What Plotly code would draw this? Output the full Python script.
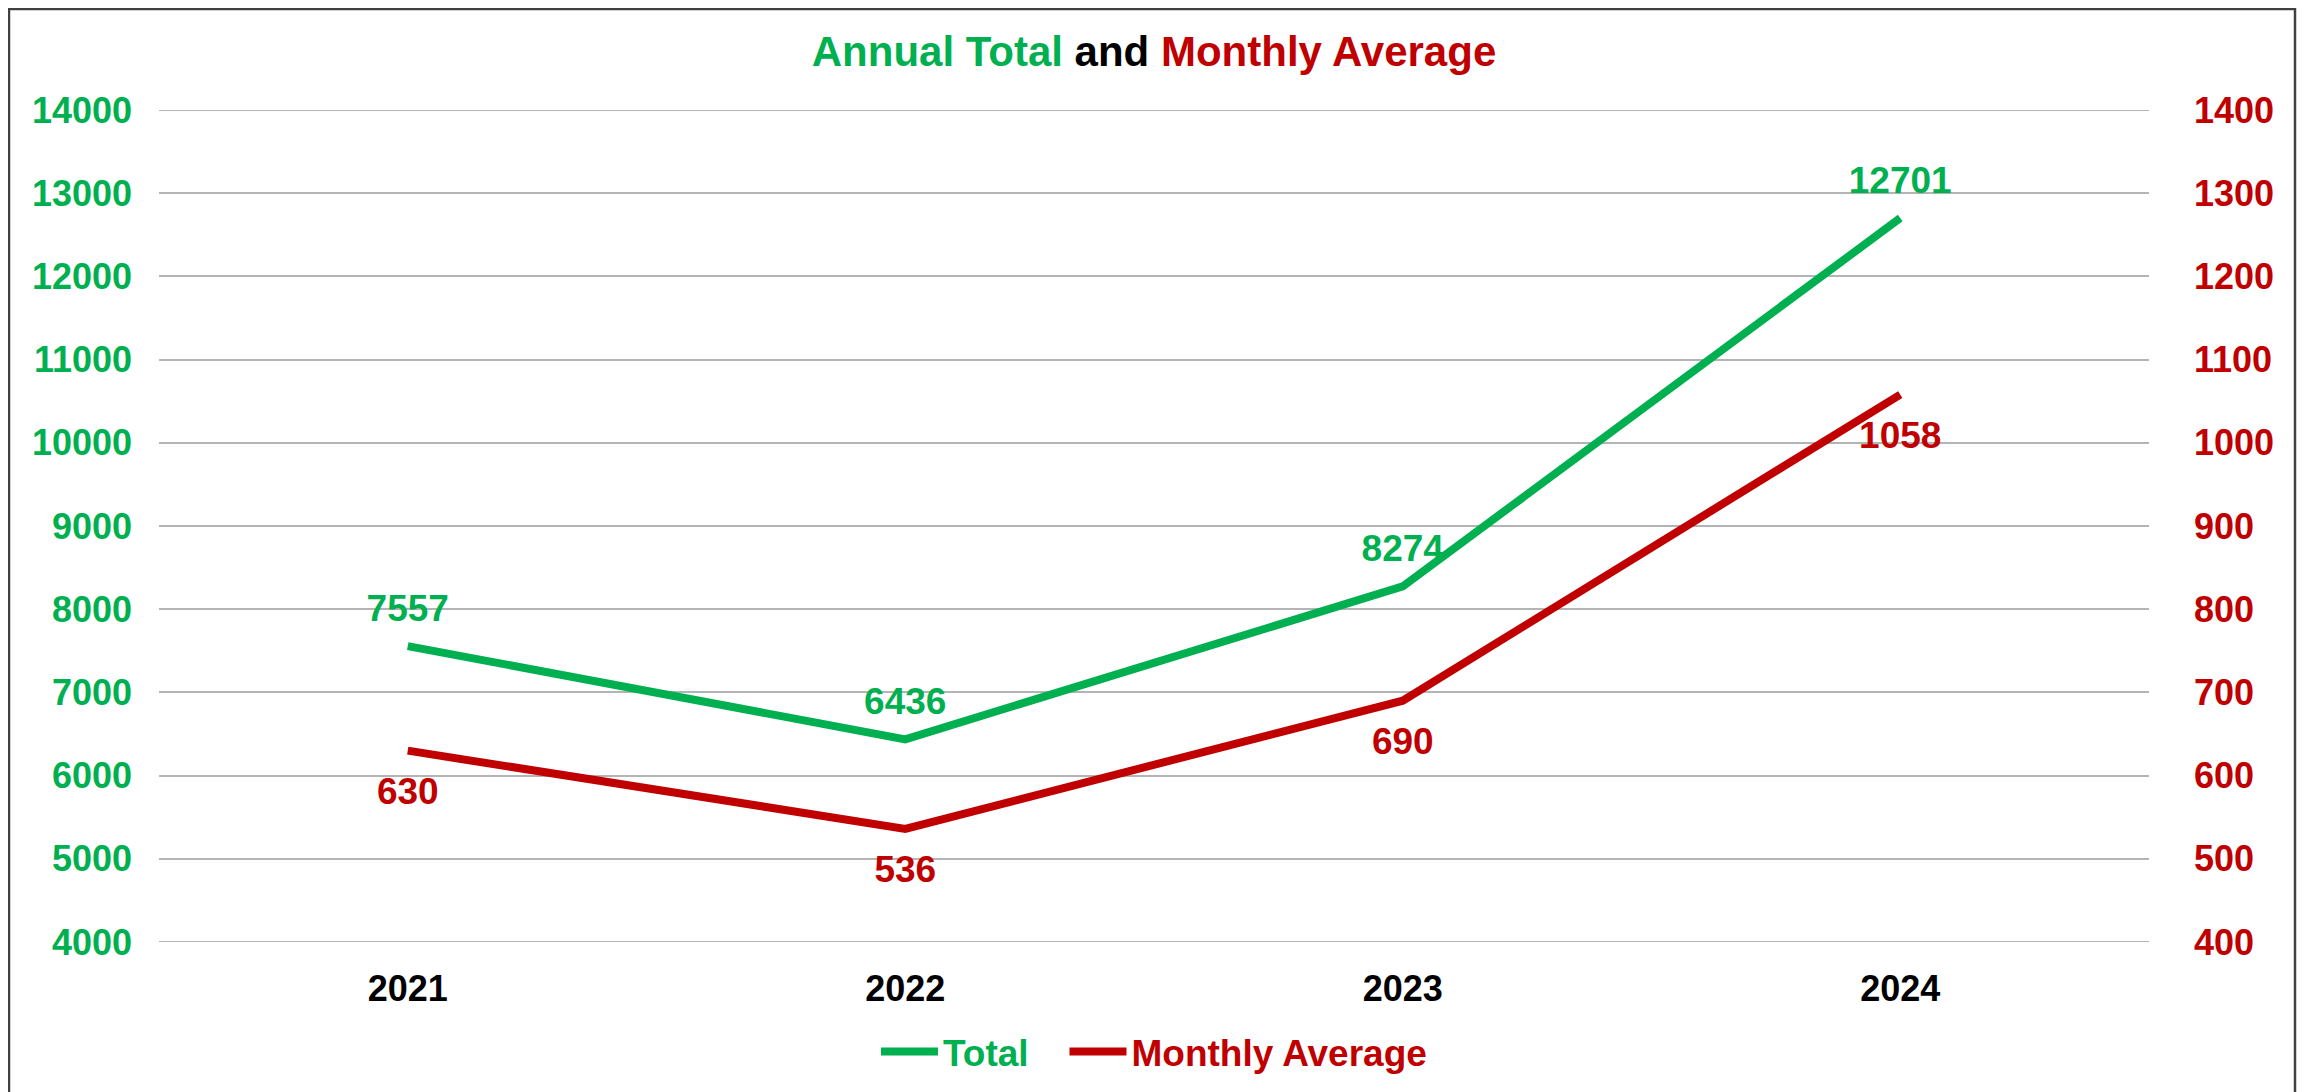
import plotly.graph_objects as go

years = ["2021", "2022", "2023", "2024"]
total = [7557, 6436, 8274, 12701]
monthly_avg = [630, 536, 690, 1058]
left_ticks = list(range(4000, 14001, 1000))
right_ticks = list(range(400, 1401, 100))

GREEN = "#00B050"
RED = "#C00000"
GRID = "#B4B4B4"
FONT = "Liberation Sans, Arial, sans-serif"

# page body has an 8px margin; work in page coordinates and shift
OFF = 8
W, H = 2308 - OFF, 1092 - OFF
PL, PR, PT, PB = 159, 2149, 110, 942  # plot area in page pixels
L, R, T, B = PL - OFF, (W + OFF) - PR, PT - OFF, (H + OFF) - PB
pw, ph = W - L - R, H - T - B


def px(xp):
    return (xp - PL) / pw


def py(yp):
    return 1 - (yp - PT) / ph


fig = go.Figure()
fig.add_trace(go.Scatter(
    x=years, y=total,
    name=f"<span style='color:{GREEN}'>Total</span>&nbsp;&nbsp;&nbsp;",
    mode="lines+markers+text",
    line=dict(color=GREEN, width=8),
    marker=dict(size=24, color="rgba(0,0,0,0)", line=dict(width=0)),
    text=[str(v) for v in total], textposition="top center",
    textfont=dict(family=FONT, size=37, color=GREEN, weight="bold"),
    yaxis="y", cliponaxis=False,
))
fig.add_trace(go.Scatter(
    x=years, y=monthly_avg,
    name=f"<span style='color:{RED}'>Monthly Average</span>",
    mode="lines+markers+text",
    line=dict(color=RED, width=8),
    marker=dict(size=39, color="rgba(0,0,0,0)", line=dict(width=0)),
    text=[str(v) for v in monthly_avg], textposition="bottom center",
    textfont=dict(family=FONT, size=37, color=RED, weight="bold"),
    yaxis="y2", cliponaxis=False,
))

shapes = [dict(
    type="rect", xref="paper", yref="paper",
    x0=px(9), x1=px(2295), y0=py(1110), y1=py(9),
    line=dict(color="#404040", width=2.5), fillcolor="rgba(0,0,0,0)",
    layer="below",
)]
for v in (left_ticks[0], left_ticks[-1]):
    shapes.append(dict(type="line", xref="paper", yref="y", x0=0, x1=1,
                       y0=v, y1=v, line=dict(color=GRID, width=2),
                       layer="below"))

fig.update_layout(
    width=W, height=H,
    margin=dict(l=L, r=R, t=T, b=B, autoexpand=False),
    paper_bgcolor="white", plot_bgcolor="white",
    font=dict(family=FONT, size=37, weight="bold", color="black"),
    title=dict(
        text=f"<span style='color:{GREEN}'>Annual Total</span> and <span style='color:{RED}'>Monthly Average</span>",
        x=px(1154), xref="paper", xanchor="center",
        y=1 - (51 - OFF) / H, yanchor="middle",
        font=dict(family=FONT, size=42, color="black", weight="bold"),
    ),
    xaxis=dict(
        type="category", range=[-0.5, 3.5], showgrid=False, zeroline=False,
        showline=False, ticks="", ticklabelstandoff=22,
        tickfont=dict(family=FONT, size=36, color="black", weight="bold"),
    ),
    yaxis=dict(
        range=[left_ticks[0], left_ticks[-1]], tickvals=left_ticks,
        tickformat="d", showgrid=True, gridcolor=GRID,
        gridwidth=2, zeroline=False, showline=False, ticks="",
        ticklabelstandoff=26,
        tickfont=dict(family=FONT, size=36, color=GREEN, weight="bold"),
    ),
    yaxis2=dict(
        range=[right_ticks[0], right_ticks[-1]], tickvals=right_ticks,
        tickformat="d", overlaying="y", side="right",
        showgrid=False, zeroline=False, showline=False, ticks="",
        ticklabelstandoff=44,
        tickfont=dict(family=FONT, size=36, color=RED, weight="bold"),
    ),
    legend=dict(
        orientation="h", x=px(1154), xanchor="center",
        y=py(1052), yanchor="middle",
        font=dict(family=FONT, size=37, weight="bold"),
        itemwidth=57,
        bgcolor="rgba(0,0,0,0)",
    ),
    showlegend=True,
    shapes=shapes,
)

fig.write_html("out.html")
